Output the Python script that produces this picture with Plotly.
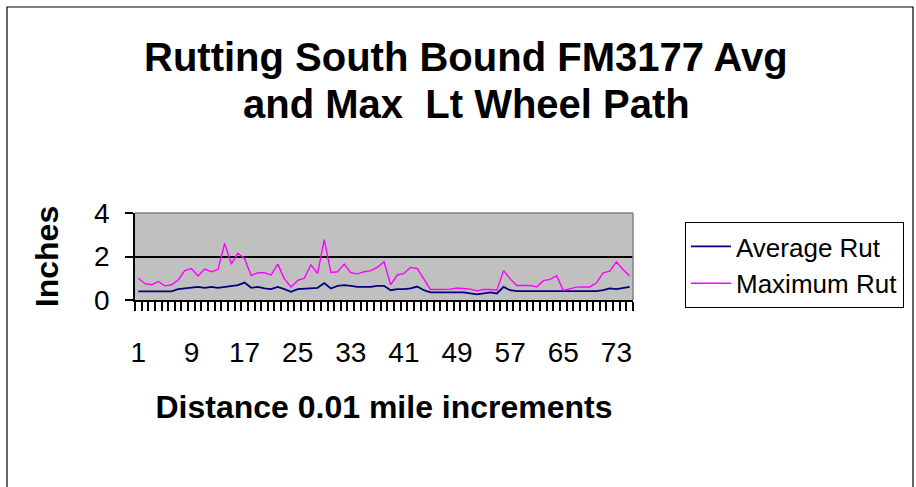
import plotly.graph_objects as go

# Distance stations (0.01 mile increments)
stations = list(range(1, 76))

# Average rut depth, inches
avg_rut = [
    0.40, 0.40, 0.40, 0.40, 0.40, 0.40, 0.50, 0.53, 0.56, 0.60,
    0.56, 0.60, 0.56, 0.60, 0.65, 0.68, 0.80, 0.56, 0.60, 0.53,
    0.50, 0.60, 0.50, 0.38, 0.50, 0.53, 0.56, 0.56, 0.78, 0.53,
    0.65, 0.68, 0.65, 0.60, 0.60, 0.60, 0.65, 0.65, 0.45, 0.50,
    0.50, 0.53, 0.62, 0.45, 0.35, 0.35, 0.35, 0.35, 0.35, 0.35,
    0.30, 0.26, 0.30, 0.35, 0.30, 0.60, 0.45, 0.41, 0.41, 0.41,
    0.41, 0.41, 0.41, 0.41, 0.41, 0.41, 0.41, 0.41, 0.41, 0.41,
    0.45, 0.53, 0.50, 0.56, 0.60,
]

# Maximum rut depth, inches
max_rut = [
    1.00, 0.75, 0.70, 0.85, 0.65, 0.70, 0.92, 1.35, 1.45, 1.10,
    1.42, 1.30, 1.40, 2.60, 1.65, 2.15, 1.90, 1.12, 1.25, 1.25,
    1.15, 1.65, 0.97, 0.60, 0.90, 1.00, 1.62, 1.22, 2.78, 1.27,
    1.30, 1.65, 1.25, 1.20, 1.30, 1.35, 1.50, 1.76, 0.70, 1.15,
    1.22, 1.50, 1.45, 0.97, 0.48, 0.48, 0.48, 0.50, 0.55, 0.52,
    0.50, 0.42, 0.48, 0.48, 0.45, 1.35, 0.97, 0.67, 0.67, 0.67,
    0.60, 0.89, 0.95, 1.12, 0.44, 0.50, 0.59, 0.60, 0.60, 0.79,
    1.25, 1.33, 1.75, 1.40, 1.10,
]

x_labels = list(range(1, 76, 8))
y_ticks = [0, 2, 4]

FONT = "Liberation Sans, Arial, sans-serif"
W, H = 916, 487
L, R, T, B = 135, 283, 213, 187
PW, PH = W - L - R, H - T - B


def px_x(px):
    return (px - L) / PW


def px_y(py):
    return (H - B - py) / PH


fig = go.Figure()
fig.add_trace(go.Scatter(
    x=stations, y=avg_rut, mode="lines", name="Average Rut",
    line=dict(color="#000080", width=1.8),
))
fig.add_trace(go.Scatter(
    x=stations, y=max_rut, mode="lines", name="Maximum Rut",
    line=dict(color="#FF00FF", width=1.4),
))

fig.update_layout(
    width=W, height=H,
    margin=dict(l=L, r=R, t=T, b=B),
    paper_bgcolor="white",
    plot_bgcolor="#C0C0C0",
    font=dict(family=FONT, color="black"),
    showlegend=True,
    legend=dict(
        x=px_x(685), y=px_y(222), xanchor="left", yanchor="top",
        bordercolor="black", borderwidth=1, bgcolor="white",
        font=dict(size=26, family=FONT),
        tracegroupgap=0, itemwidth=40,
    ),
    xaxis=dict(
        range=[0.5, 75.5],
        tickmode="array", tickvals=x_labels,
        ticktext=[str(v) for v in x_labels],
        ticks="", ticklabelstandoff=27,
        tickfont=dict(size=28),
        showgrid=False, zeroline=False,
        showline=True, linecolor="black", linewidth=1.5,
        minor=dict(tickmode="linear", tick0=0.5, dtick=1,
                   ticks="outside", ticklen=9, tickcolor="black",
                   tickwidth=1.5, showgrid=False),
        title=dict(text="<b>Distance 0.01 mile increments</b>",
                   font=dict(size=32), standoff=28),
    ),
    yaxis=dict(
        range=[0, 4], tickmode="array", tickvals=y_ticks,
        ticks="outside", ticklen=8, tickcolor="black", tickwidth=1.5,
        ticklabelstandoff=10,
        tickfont=dict(size=28),
        showgrid=True, gridcolor="black", gridwidth=1.5,
        zeroline=False,
        showline=True, linecolor="black", linewidth=1.5,
        title=dict(text="<b>Inches</b>", font=dict(size=32), standoff=26),
    ),
    annotations=[
        dict(text="<b>Rutting South Bound FM3177 Avg</b>",
             x=px_x(466), y=px_y(57), xref="paper", yref="paper",
             xanchor="center", yanchor="middle", showarrow=False,
             font=dict(size=40, family=FONT)),
        dict(text="<b>and Max\u00a0 Lt Wheel Path</b>",
             x=px_x(466), y=px_y(104), xref="paper", yref="paper",
             xanchor="center", yanchor="middle", showarrow=False,
             font=dict(size=40, family=FONT)),
    ],
    shapes=[
        # outer chart frame
        dict(type="rect", xref="paper", yref="paper",
             x0=px_x(7), x1=px_x(913), y0=px_y(495), y1=px_y(7),
             line=dict(color="black", width=1.2), layer="below"),
        # plot area top/right edge
        dict(type="line", xref="paper", yref="paper",
             x0=0, x1=1, y0=1, y1=1,
             line=dict(color="#808080", width=1.5)),
        dict(type="line", xref="paper", yref="paper",
             x0=1, x1=1, y0=0, y1=1,
             line=dict(color="#808080", width=1.5)),
    ],
)

fig.write_html("out.html")
